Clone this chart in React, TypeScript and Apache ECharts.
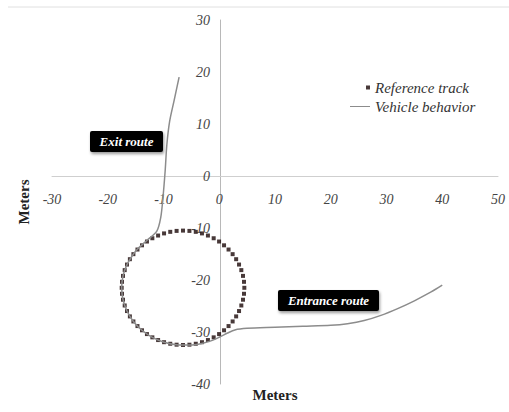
import React, { useEffect, useRef } from "react";
import * as echarts from "echarts";

const xTicks = [-30, -20, -10, 0, 10, 20, 30, 40, 50];
const yTicks = [-40, -30, -20, -10, 0, 10, 20, 30];

// Reference track (dotted circle)
const referenceTrack: [number, number][] = [
  [4.5, -21.5], [4.44, -20.35], [4.26, -19.21], [3.96, -18.1], [3.55, -17.03],
  [3.03, -16.0], [2.4, -15.03], [1.67, -14.14], [0.86, -13.33], [-0.03, -12.6],
  [-1.0, -11.97], [-2.03, -11.45], [-3.1, -11.04], [-4.21, -10.74], [-5.35, -10.56],
  [-6.5, -10.5], [-7.65, -10.56], [-8.79, -10.74], [-9.9, -11.04], [-10.97, -11.45],
  [-12.0, -11.97], [-12.97, -12.6], [-13.86, -13.33], [-14.67, -14.14], [-15.4, -15.03],
  [-16.03, -16.0], [-16.55, -17.03], [-16.96, -18.1], [-17.26, -19.21], [-17.44, -20.35],
  [-17.5, -21.5], [-17.44, -22.65], [-17.26, -23.79], [-16.96, -24.9], [-16.55, -25.97],
  [-16.03, -27.0], [-15.4, -27.97], [-14.67, -28.86], [-13.86, -29.67], [-12.97, -30.4],
  [-12.0, -31.03], [-10.97, -31.55], [-9.9, -31.96], [-8.79, -32.26], [-7.65, -32.44],
  [-6.5, -32.5], [-5.35, -32.44], [-4.21, -32.26], [-3.1, -31.96], [-2.03, -31.55],
  [-1.0, -31.03], [-0.03, -30.4], [0.86, -29.67], [1.67, -28.86], [2.4, -27.97],
  [3.03, -27.0], [3.55, -25.97], [3.96, -24.9], [4.26, -23.79], [4.44, -22.65],
];

// Vehicle behavior path (exit at top, entrance at right)
const vehicleBehavior: [number, number][] = [
  [-7.2, 19], [-8.1, 14.5], [-8.9, 10.5], [-9.4, 6], [-9.7, 1], [-10.1, -4.2],
  [-10.5, -8], [-11.2, -10.6], [-12.9, -12.3], [-14.7, -14.1], [-15.4, -15.03],
  [-16.55, -17.03], [-17.26, -19.21], [-17.5, -21.5], [-17.26, -23.79], [-16.55, -25.97],
  [-15.4, -27.97], [-13.86, -29.67], [-12.0, -31.03], [-9.9, -31.96], [-7.65, -32.44],
  [-5.35, -32.5], [-3.1, -32.2], [-1.5, -31.7], [0, -31], [1.5, -30.2], [2.8, -29.6],
  [5, -29.3], [10, -29.1], [15, -28.9], [20, -28.7], [23, -28.4], [26, -27.8],
  [29, -26.8], [32, -25.5], [35, -24], [38, -22.3], [40, -21],
];

const seriesNames = ["Reference track", "Vehicle behavior"];
const annotations = ["Exit route", "Entrance route"];
const axisName = "Meters";

const serif = "'Liberation Serif', 'Times New Roman', serif";

export default function App() {
  const ref = useRef<HTMLDivElement>(null);
  useEffect(() => {
    if (!ref.current) return;
    const chart = echarts.init(ref.current, undefined, { renderer: "svg" });
    chart.setOption({
      animation: false,
      backgroundColor: "#ffffff",
      grid: { left: 52, right: 11, top: 20, bottom: 28, outerBoundsMode: "none", containLabel: false },
      legend: {
        orient: "vertical",
        left: 345,
        top: 75,
        itemWidth: 20,
        itemHeight: 5,
        itemGap: 4,
        textStyle: {
          fontFamily: serif,
          fontStyle: "italic",
          fontSize: 15,
          color: "#333",
        },
        data: [
          { name: seriesNames[0], icon: "path://M0,2.5h0.01M16,0.5h4v4h-4zM20,2.5h-0.01" },
          { name: seriesNames[1], icon: "path://M0,0h0.01M0,1.9h20v1.2h-20zM20,5h-0.01" },
        ],
      },
      xAxis: {
        type: "value",
        min: xTicks[0],
        max: xTicks[xTicks.length - 1],
        interval: 10,
        offset: -208,
        name: axisName,
        nameLocation: "middle",
        nameGap: 211,
        nameTextStyle: { fontFamily: serif, fontWeight: "bold", fontSize: 15, color: "#222" },
        axisLine: { onZero: false, lineStyle: { color: "#cfcfcf", width: 1 } },
        axisTick: { show: false },
        splitLine: { show: false },
        axisLabel: {
          margin: 16,
          fontFamily: serif,
          fontStyle: "italic",
          fontSize: 14,
          color: "#444",
        },
      },
      yAxis: {
        type: "value",
        min: yTicks[0],
        max: yTicks[yTicks.length - 1],
        interval: 10,
        offset: -168,
        name: axisName,
        nameLocation: "middle",
        nameGap: 189,
        nameRotate: 90,
        nameTextStyle: { fontFamily: serif, fontWeight: "bold", fontSize: 15, color: "#222" },
        axisLine: { onZero: false, lineStyle: { color: "#b8b8b8", width: 1 } },
        axisTick: { show: false },
        splitLine: { show: false },
        axisLabel: {
          margin: 10,
          fontFamily: serif,
          fontStyle: "italic",
          fontSize: 14,
          color: "#444",
        },
      },
      series: [
        {
          name: seriesNames[0],
          type: "scatter",
          symbol: "rect",
          symbolSize: 4,
          itemStyle: { color: "#1a0808" },
          data: referenceTrack,
          z: 2,
        },
        {
          name: seriesNames[1],
          type: "line",
          showSymbol: false,
          symbol: "none",
          smooth: 0.3,
          lineStyle: { color: "#8c8c8c", width: 1.5 },
          itemStyle: { color: "#8c8c8c" },
          data: vehicleBehavior,
          z: 3,
        },
      ],
      graphic: [
        {
          type: "line",
          shape: { x1: 8, y1: 7, x2: 509, y2: 7 },
          style: { stroke: "#e0e0e0", lineWidth: 1 },
        },
        {
          type: "group",
          left: 90,
          top: 131,
          children: [
            {
              type: "rect",
              shape: { x: 0, y: 0, width: 73, height: 21, r: 2 },
              style: { fill: "#000", shadowBlur: 3, shadowOffsetX: 1, shadowOffsetY: 2, shadowColor: "rgba(0,0,0,0.4)" },
            },
            {
              type: "text",
              x: 36.5,
              y: 10.5,
              style: {
                text: annotations[0],
                fill: "#fff",
                font: `italic bold 13px ${serif}`,
                align: "center",
                verticalAlign: "middle",
              },
            },
          ],
        },
        {
          type: "group",
          left: 278,
          top: 290,
          children: [
            {
              type: "rect",
              shape: { x: 0, y: 0, width: 101, height: 21, r: 2 },
              style: { fill: "#000", shadowBlur: 3, shadowOffsetX: 1, shadowOffsetY: 2, shadowColor: "rgba(0,0,0,0.4)" },
            },
            {
              type: "text",
              x: 50.5,
              y: 10.5,
              style: {
                text: annotations[1],
                fill: "#fff",
                font: `italic bold 13px ${serif}`,
                align: "center",
                verticalAlign: "middle",
              },
            },
          ],
        },
      ],
    });
    return () => chart.dispose();
  }, []);
  return (
    <div
      ref={ref}
      style={{ position: "fixed", left: 0, top: 0, width: 509, height: 412 }}
    />
  );
}
